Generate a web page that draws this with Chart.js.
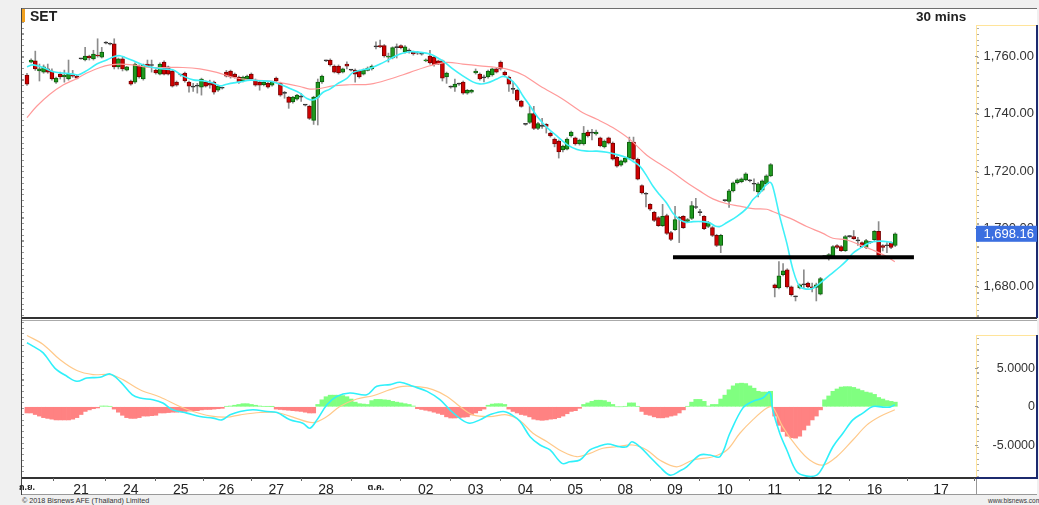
<!DOCTYPE html>
<html><head><meta charset="utf-8">
<script src="https://cdn.jsdelivr.net/npm/chart.js@4.4.0/dist/chart.umd.min.js"></script>
<style>
html,body{margin:0;padding:0;background:#f0f0f0;width:1039px;height:505px;overflow:hidden;font-family:"Liberation Sans",Arial,sans-serif;}
.abs{position:absolute;}
#frame{left:22px;top:8px;width:1015px;height:487px;background:#fff;}
.ln{position:absolute;}
canvas{position:absolute;left:0;}
#c1{top:0;}
#c2{top:320px;}
#title{left:30px;top:8px;font-weight:bold;font-size:14px;color:#222;}
#period{left:916px;top:9px;font-weight:bold;font-size:13.5px;color:#222;}
#copy{left:22px;top:496px;font-size:7.2px;color:#333;}
#site{left:988px;top:497px;font-size:6.5px;color:#333;}
</style></head>
<body>
<div id="frame" class="abs"></div>
<!-- frame lines -->
<div class="ln" style="left:22px;top:8px;width:1015px;height:1px;background:#6e6e6e"></div>
<div class="ln" style="left:22px;top:9px;width:3px;height:13px;background:#f0a020"></div>
<div class="ln" style="left:21px;top:8px;width:1px;height:487px;background:#444"></div>
<div class="ln" style="left:22px;top:22px;width:2px;height:296px;background:repeating-linear-gradient(to bottom,#999 0 1px,transparent 1px 5.75px)"></div>
<div class="ln" style="left:22px;top:322px;width:2px;height:156px;background:repeating-linear-gradient(to bottom,#999 0 1px,transparent 1px 5.75px)"></div>
<div class="ln" style="left:22px;top:317px;width:1015px;height:2px;background:#333"></div>
<div class="ln" style="left:22px;top:320px;width:1015px;height:1px;background:#aaa"></div>
<div class="ln" style="left:22px;top:477px;width:954px;height:2px;background:#333"></div>
<div class="ln" style="left:22px;top:494px;width:1015px;height:1px;background:#999"></div>
<div class="ln" style="left:976px;top:479px;width:1px;height:16px;background:#999"></div>
<!-- right axis boxes -->
<div class="ln" style="left:976px;top:25px;width:60px;height:1px;background:#ffe49a"></div>
<div class="ln" style="left:976px;top:25px;width:1px;height:292px;background:#ffe49a"></div>
<div class="ln" style="left:977px;top:28px;width:2px;height:289px;background:repeating-linear-gradient(to bottom,#aaa 0 1px,transparent 1px 5.75px)"></div>
<div class="ln" style="left:1036px;top:25px;width:2px;height:293px;background:#1c2a6e"></div>
<div class="ln" style="left:976px;top:335px;width:60px;height:1px;background:#ffe49a"></div>
<div class="ln" style="left:976px;top:335px;width:1px;height:143px;background:#ffe49a"></div>
<div class="ln" style="left:977px;top:338px;width:2px;height:139px;background:repeating-linear-gradient(to bottom,#aaa 0 1px,transparent 1px 5.75px)"></div>
<div class="ln" style="left:1036px;top:335px;width:2px;height:144px;background:#1c2a6e"></div>
<div class="ln" style="left:976px;top:477px;width:62px;height:2px;background:#1c2a6e"></div>

<canvas id="c1" width="1039" height="319"></canvas>
<canvas id="c2" width="1039" height="176"></canvas>
<div id="title" class="abs">SET</div>
<div id="period" class="abs">30 mins</div>
<div id="copy" class="abs">© 2018 Bisnews AFE (Thailand) Limited</div>
<div id="site" class="abs">www.bisnews.com</div>
<script>
// ---------- DATA (30-min bars, index 0 = first bar of 20 Sep) ----------
const opens = [
1753.4,1757.9,1758.3,1754.8,1754.4,1755.5,1754.8,1750.9,1753.7,1752.7,
1752.0,1753.4,1753.0,1759.0,1758.6,1760.0,1759.0,1760.3,1759.6,1764.5,
1764.3,1764.2,1756.2,1759.0,1755.1,1751.3,1750.9,1756.5,1752.0,1757.2,
1756.9,1755.1,1753.7,1757.9,1756.2,1754.8,1750.9,1753.4,1754.1,1750.9,
1749.2,1749.6,1749.2,1750.9,1750.5,1750.9,1748.1,1748.8,1754.4,1754.8,
1753.7,1752.7,1751.3,1752.0,1753.7,1751.6,1750.9,1750.0,1750.5,1749.9,
1752.3,1750.5,1747.0,1745.7,1744.0,1745.0,1745.7,1742.9,1742.5,1737.6,
1745.7,1751.0,1758.3,1758.6,1756.5,1756.5,1754.4,1757.2,1755.1,1755.1,
1754.8,1753.7,1755.0,1755.5,1763.2,1763.6,1763.6,1759.6,1759.3,1762.9,
1763.6,1761.4,1761.7,1761.4,1761.0,1760.7,1758.3,1760.0,1759.6,1758.3,
1758.3,1752.7,1749.2,1749.2,1750.2,1750.9,1747.1,1747.4,1754.1,1753.7,
1752.5,1752.7,1753.4,1755.5,1757.9,1754.4,1752.7,1748.5,1748.1,1744.3,
1736.2,1736.9,1740.0,1734.8,1735.5,1736.2,1733.2,1731.1,1730.4,1727.3,
1727.6,1732.2,1731.5,1729.4,1729.4,1733.5,1733.2,1732.9,1731.5,1728.4,
1731.5,1729.7,1724.8,1722.0,1723.1,1724.5,1730.1,1724.1,1714.9,1712.0,
1708.4,1705.6,1703.8,1701.0,1704.5,1698.6,1699.6,1703.5,1704.2,1702.5,
1703.5,1707.3,1705.6,1704.2,1700.7,1700.3,1697.6,1694.1,1709.7,1709.4,
1713.1,1715.9,1716.3,1716.9,1716.6,1715.5,1712.7,1713.3,1715.5,1718.3,
1680.4,1679.3,1683.9,1685.6,1679.7,1676.2,1679.3,1680.4,1681.0,1679.7,
1679.5,1677.2,1690.2,1689.9,1690.2,1694.1,1693.7,1692.3,1697.2,1697.2,
1695.8,1695.1,1693.4,1695.1,1696.1,1699.0,1694.1,1694.1,1695.1,1694.1];
const highs = [
1754.0,1759.0,1761.7,1757.2,1756.9,1757.2,1755.5,1752.7,1754.4,1755.1,
1758.6,1755.0,1753.4,1759.2,1763.0,1760.3,1762.0,1766.0,1763.0,1765.0,
1764.6,1766.0,1759.3,1759.6,1756.4,1751.6,1757.6,1756.9,1757.2,1758.6,
1758.6,1755.5,1757.6,1758.3,1756.5,1755.1,1751.3,1753.7,1754.4,1751.3,
1750.5,1750.5,1752.3,1751.3,1751.6,1751.3,1749.9,1749.2,1755.0,1755.1,
1754.1,1753.0,1753.0,1753.4,1754.1,1752.0,1751.3,1751.3,1750.9,1751.3,
1752.7,1750.9,1747.7,1746.0,1746.0,1746.7,1747.0,1743.2,1742.9,1746.0,
1752.0,1753.4,1758.6,1759.0,1756.9,1756.9,1755.8,1758.0,1755.4,1755.5,
1755.1,1755.5,1756.2,1756.9,1764.9,1765.5,1764.0,1761.0,1763.2,1764.2,
1763.9,1763.6,1762.5,1761.7,1761.6,1761.2,1759.0,1762.0,1760.0,1758.6,
1758.6,1754.4,1749.6,1752.0,1750.6,1751.3,1748.4,1748.4,1755.5,1754.1,
1753.4,1755.1,1755.8,1755.8,1758.3,1754.8,1753.0,1751.0,1748.4,1744.6,
1736.5,1742.5,1742.5,1736.9,1738.3,1736.5,1733.5,1731.5,1730.8,1729.0,
1731.5,1733.9,1731.8,1731.1,1735.5,1734.2,1734.5,1734.2,1731.8,1730.8,
1731.8,1730.1,1725.2,1723.8,1724.8,1731.8,1731.8,1724.5,1715.2,1712.5,
1708.7,1706.0,1704.2,1708.4,1705.0,1699.0,1707.7,1704.2,1704.5,1703.5,
1709.4,1710.5,1706.7,1704.5,1702.5,1700.7,1698.0,1698.0,1710.0,1713.6,
1716.2,1717.3,1717.6,1719.4,1717.0,1717.3,1716.0,1716.9,1718.7,1722.6,
1680.7,1688.5,1687.8,1686.0,1680.0,1676.5,1680.7,1685.6,1681.4,1681.0,
1681.0,1683.0,1690.5,1691.3,1694.1,1694.4,1694.1,1697.6,1697.6,1699.3,
1696.9,1695.4,1696.2,1695.5,1699.3,1702.4,1694.4,1695.1,1695.4,1698.5];
const lows = [
1749.8,1757.6,1755.0,1751.3,1754.0,1754.0,1751.6,1750.5,1752.0,1750.9,
1751.6,1752.6,1752.0,1758.9,1758.3,1758.6,1758.6,1759.6,1759.3,1764.2,
1763.9,1755.5,1755.5,1754.8,1754.8,1749.9,1750.5,1752.3,1751.6,1756.2,
1754.4,1753.7,1753.4,1753.4,1753.4,1749.2,1749.5,1753.0,1750.9,1747.4,
1747.7,1747.1,1746.4,1749.2,1748.8,1746.7,1747.7,1748.5,1752.7,1752.3,
1752.3,1750.5,1751.0,1751.6,1751.6,1749.5,1748.1,1749.6,1748.8,1749.5,
1751.0,1746.0,1745.3,1741.8,1743.6,1744.6,1744.2,1742.6,1737.9,1736.2,
1736.0,1750.5,1758.0,1756.5,1754.1,1753.7,1754.1,1755.5,1754.8,1750.9,
1752.3,1753.4,1754.8,1755.1,1762.5,1762.9,1759.6,1757.9,1759.0,1759.3,
1762.5,1761.0,1761.0,1760.3,1760.5,1760.3,1758.0,1757.2,1756.5,1757.0,
1751.3,1750.5,1748.8,1747.7,1749.8,1746.7,1746.7,1747.1,1753.7,1751.6,
1751.0,1752.3,1753.0,1754.1,1755.1,1753.0,1747.7,1747.0,1744.2,1742.2,
1735.9,1736.5,1734.4,1734.4,1734.8,1733.2,1731.8,1728.4,1724.5,1726.6,
1727.3,1731.8,1729.0,1729.0,1729.0,1731.8,1730.8,1732.5,1728.4,1728.0,
1729.4,1723.8,1721.3,1721.7,1722.8,1724.1,1723.8,1716.9,1712.0,1707.5,
1706.3,1702.4,1700.7,1700.7,1697.9,1695.8,1699.3,1695.1,1700.0,1702.1,
1703.1,1706.9,1704.5,1699.6,1700.3,1697.2,1693.7,1691.6,1709.4,1707.3,
1712.7,1715.5,1715.9,1716.6,1716.2,1713.1,1711.0,1713.0,1715.2,1718.0,
1676.2,1679.0,1683.5,1679.3,1676.5,1674.8,1679.0,1679.3,1679.3,1677.9,
1674.8,1676.9,1689.5,1689.0,1689.9,1693.0,1692.0,1692.0,1696.9,1696.2,
1694.1,1693.4,1693.0,1694.8,1695.8,1690.2,1692.2,1691.6,1693.0,1693.7];
const closes = [
1750.2,1758.6,1755.5,1755.5,1756.2,1754.4,1752.0,1752.3,1752.7,1753.4,
1753.7,1753.0,1752.3,1759.1,1760.0,1759.3,1760.7,1760.0,1761.4,1764.7,
1764.1,1756.2,1759.0,1755.5,1756.2,1750.2,1757.2,1752.7,1756.9,1756.5,
1756.7,1754.1,1757.2,1753.7,1753.7,1749.5,1749.9,1753.5,1751.3,1749.5,
1749.3,1749.5,1752.0,1749.5,1749.9,1747.4,1749.5,1748.9,1753.0,1752.7,
1752.7,1750.9,1752.7,1753.0,1752.0,1749.9,1749.9,1750.9,1749.2,1750.9,
1751.3,1746.4,1747.1,1743.9,1745.7,1746.4,1745.8,1742.9,1738.3,1745.7,
1750.9,1753.0,1758.4,1756.9,1754.4,1754.1,1755.5,1756.5,1755.1,1753.7,
1752.7,1755.1,1755.8,1756.5,1763.3,1763.2,1760.0,1760.0,1762.9,1763.0,
1762.9,1763.2,1761.8,1760.7,1761.0,1760.6,1758.6,1757.6,1757.0,1757.2,
1752.3,1754.1,1749.2,1750.2,1750.2,1747.1,1748.1,1748.1,1754.8,1752.0,
1752.4,1754.8,1755.5,1754.4,1755.5,1753.4,1750.2,1748.4,1744.6,1742.5,
1736.3,1740.0,1734.8,1736.5,1735.6,1735.5,1732.2,1729.4,1726.6,1728.7,
1731.1,1733.5,1729.4,1730.8,1733.2,1732.2,1733.3,1733.5,1728.7,1730.4,
1729.7,1724.1,1721.7,1723.5,1724.5,1730.1,1724.1,1717.2,1712.4,1711.9,
1706.7,1702.8,1701.0,1704.2,1698.3,1696.2,1703.1,1703.6,1700.3,1703.1,
1708.0,1707.4,1705.5,1699.9,1702.1,1697.6,1694.1,1697.6,1709.8,1713.1,
1715.9,1716.9,1717.3,1719.0,1716.7,1715.4,1715.5,1716.6,1718.3,1722.2,
1679.3,1683.5,1685.3,1679.7,1677.0,1676.3,1680.4,1680.5,1679.7,1679.3,
1680.4,1682.6,1690.3,1690.9,1693.7,1693.4,1692.3,1697.2,1697.3,1696.5,
1695.7,1693.7,1695.8,1695.2,1699.0,1690.6,1693.4,1694.0,1693.4,1698.16];

// fast moving average (cyan): bar index / value
const maFastX = [0,1.4,3.9,6.3,8.7,11.1,12.3,14.4,16.8,19.3,21.2,22.4,23.6,25.5,27.9,30.3,32.7,35.1,37.5,40,42.4,44.8,46.5,48.1,51.3,53.7,56.1,58.5,60.9,63.3,65.7,67.4,68.8,70,71.2,72.9,74.6,77,78.5,80.9,82.6,85,87.4,89.8,92.2,94.6,97,98.7,100.6,102.5,104.9,107.3,109,110.7,113.1,114.6,116.2,117.9,119.4,121.1,123,125.2,127.6,130,132.4,134.8,137.2,139.6,142,144.4,145.8,147.5,149.2,150.7,152.3,154,155.5,157.2,158.8,160.3,162.7,164.4,165.6,166.8,168.5,170.9,173.3,174.7,176.4,177.6,178.8,179.5,181.2,182.9,184.4,186,187.7,189.2,190.9,193.3,195.7,197.4,198.8,200.5,202.2,203.6,205.3,207.2,208.4];
const maFastY = [1756.3,1756.9,1756.0,1754.5,1754.1,1753.7,1753.4,1754.9,1757.2,1758.7,1759.9,1760.1,1759.5,1758.4,1756.9,1756.0,1755.5,1755.2,1753.1,1751.7,1751.4,1750.6,1749.6,1750.2,1751.0,1751.6,1751.4,1751.2,1750.2,1748.7,1747.1,1745.2,1744.7,1745.6,1747.3,1748.5,1750.2,1752.2,1754.3,1755.2,1755.7,1757.2,1759.0,1760.7,1761.5,1761.3,1760.7,1759.5,1757.8,1755.5,1753.1,1751.0,1750.3,1750.6,1752.0,1752.9,1752.0,1749.6,1746.1,1742.6,1738.6,1735.1,1732.1,1729.2,1727.5,1726.9,1726.9,1726.5,1725.7,1724.6,1723.4,1721.7,1718.2,1714.7,1711.7,1708.8,1705.3,1703.0,1702.1,1702.4,1702.4,1701.9,1700.9,1700.7,1702.1,1704.2,1707.1,1710.0,1712.3,1714.7,1716.1,1714.7,1704.2,1694.9,1685.6,1679.8,1678.9,1679.2,1681.0,1683.9,1686.7,1689.0,1691.4,1693.1,1694.6,1695.4,1695.6,1695.4,1695.0];
// slow moving average (pink)
const maSlowX = [0,2.4,5.5,8.7,12,14.4,17.6,20,22.4,25.5,29.6,33.7,37.5,41.6,45.7,49.6,53.7,57.8,61.6,65.7,68.1,70.5,73.6,77.7,82.6,87.4,92.2,97,101.1,104.9,109,113.1,116.2,119.4,123.5,129,133.8,137.2,141,145.1,149.2,152.3,155.5,158.8,162,165.1,168.5,171.6,174.7,178.1,179.5,183.6,187.7,191.6,194,197.4,200.5,203.6,207,208.9];
const maSlowY = [1738.6,1742.6,1746.7,1749.9,1752.2,1754.1,1756.0,1756.9,1757.2,1756.9,1756.0,1756.0,1756.0,1755.5,1754.3,1752.6,1751.7,1751.4,1750.6,1749.4,1748.5,1748.7,1749.6,1750.0,1750.2,1752.0,1754.3,1756.6,1757.8,1757.2,1756.6,1756.0,1755.2,1753.4,1749.6,1745.0,1740.3,1738.0,1735.1,1731.0,1725.5,1722.5,1719.5,1716.0,1713.0,1710.3,1708.6,1707.8,1706.9,1706.7,1705.9,1703.6,1700.7,1698.3,1696.6,1696.0,1694.3,1692.5,1690.2,1688.4];
// drawn support line
const supportX = [155.5, 213.5];
const supportY = [1690, 1690];

// MACD panel
const macdX = [0,1.4,3.9,6.7,9.6,12,14.4,17.6,20,22.4,25.3,27.2,30.3,32.7,35.1,38.5,41.6,44.8,46.9,48.9,51.3,54.4,57.8,60.2,63.3,66.4,68.1,69.8,72.2,74.6,77.7,81.8,84.2,87.4,89.8,92.9,96.3,99.4,101.8,104.7,106.6,109,111.4,114.6,116.7,118.7,121.1,123.5,125.9,128.8,130.7,133.1,135.5,137.4,139.8,142.7,144.4,145.6,147.5,149.9,152.3,154.8,157.2,158.8,162,164.4,166.8,169.2,172.3,174.7,177.1,178.8,179.5,181.2,182.9,185.3,187.7,190.1,191.6,194,196.4,198.8,201.2,203.6,206,207.7,208.9];
const macdY = [8.27,7.83,6.97,5.0,3.94,3.29,3.72,3.81,4.24,3.29,1.56,1.13,0.91,0.48,-0.39,-0.82,-1.26,-1.47,-1.69,-1.04,-0.61,-0.39,-0.61,-0.74,-1.69,-2.12,-2.77,-1.69,0.26,1.34,1.78,1.56,2.64,2.86,3.16,2.64,1.99,0.91,-0.39,-1.69,-2.12,-1.69,-1.04,-0.61,-1.04,-1.9,-3.86,-4.94,-5.58,-7.31,-7.10,-6.88,-5.58,-5.16,-4.81,-5.16,-5.16,-4.51,-5.16,-6.45,-7.75,-8.83,-8.27,-7.75,-6.23,-6.23,-6.45,-3.42,-0.17,0.69,1.13,1.86,-0.39,-3.42,-5.58,-8.4,-8.96,-8.83,-7.75,-5.16,-3.42,-1.69,-0.82,0.04,-0.04,-0.04,0.26];
const signalX = [0,3.9,7.9,12,15.9,20,23.1,27.2,32,36.8,40,44,48.1,51.3,56.1,60.2,64,68.8,72.2,75.3,79.4,83.3,87.4,90.5,94.6,97.7,101.1,104.2,107.3,111.4,115.5,118.7,121.8,125.2,129,132.4,135.5,138.6,142,145.8,149.2,152.3,156.4,160.3,165.1,168.5,171.6,174.7,178.1,179.5,181.9,185.3,188.4,191.6,194.9,198.8,202.2,205.3,208.9];
const signalY = [9.22,8.05,6.1,4.68,4.16,4.16,3.51,2.21,1.26,0.04,-0.61,-1.17,-1.34,-1.04,-0.74,-0.74,-1.34,-2.04,-1.26,0.04,1.0,1.43,2.21,2.64,2.56,2.21,1.34,0.04,-1.04,-1.26,-1.04,-1.8,-3.42,-4.51,-5.81,-6.45,-6.01,-5.36,-5.16,-4.94,-5.58,-6.88,-7.75,-6.88,-6.45,-5.58,-3.42,-1.69,-0.17,-0.04,-2.56,-5.16,-6.88,-7.53,-6.45,-4.29,-2.34,-1.26,-0.39];
const histogram = [
-0.8,-0.8,-1.0,-1.2,-1.4,-1.5,-1.6,-1.7,-1.7,-1.7,-1.7,-1.6,-1.4,-1.0,-0.6,-0.4,-0.25,-0.15,
0.1,0.1,0.05,
-0.3,-0.7,-1.1,-1.4,-1.5,-1.5,-1.4,-1.2,-1.2,-1.15,-1.1,-0.8,-0.8,-0.75,-0.7,-0.7,-0.65,-0.6,-0.55,-0.5,-0.5,-0.4,-0.35,-0.35,-0.3,-0.25,-0.2,
0.05,0.1,0.2,0.3,0.4,0.4,0.3,0.2,0.1,0.05,0.04,0.03,
-0.3,-0.35,-0.4,-0.45,-0.5,-0.55,-0.6,-0.7,-0.8,-0.8,
0.3,0.9,1.3,1.5,1.5,1.5,1.45,1.3,1.0,0.6,0.4,0.35,0.3,0.8,0.95,0.95,0.9,0.85,0.7,0.6,0.5,0.4,0.3,0.1,
-0.25,-0.35,-0.45,-0.55,-0.7,-0.85,-1.0,-1.3,-1.45,-1.45,-1.4,-1.35,-1.3,-1.05,-0.8,-0.5,-0.3,
0.2,0.35,0.4,0.4,0.3,
-0.3,-0.6,-0.8,-1.0,-1.1,-1.3,-1.6,-1.7,-1.75,-1.7,-1.6,-1.55,-1.4,-1.2,-0.9,-0.6,-0.5,-0.2,
0.3,0.5,0.7,0.85,0.85,0.8,0.6,0.3,
0,0,0.05,0.5,0.5,0.05,
-0.6,-1.0,-1.1,-1.3,-1.43,-1.43,-1.35,-1.2,-1.1,-0.8,-0.4,
0.05,0.6,0.95,0.95,0.7,0.1,0.3,0.3,
1.0,1.5,2.2,2.7,3.0,3.05,3.0,2.7,2.4,2.0,1.9,1.9,2.0,
-1.2,-2.4,-3.2,-3.8,-4.0,-4.05,-3.8,-3.0,-2.4,-1.7,-1.2,-0.4,
0.9,1.4,2.0,2.3,2.55,2.6,2.6,2.5,2.3,2.1,1.9,1.8,1.6,1.2,1.0,0.8,0.7,0.6];

// tick labels
const priceTicks = [1680, 1700, 1720, 1740, 1760];
const macdTicks = [-5, 0, 5];
const dayTickIdx = [0, 13, 25, 37, 48, 60, 72, 84, 96, 108, 120, 132, 144, 156, 168, 180, 192, 204, 220];
const dayLabels = ['ก.ย.','21','24','25','26','27','28','ต.ค.','02','03','04','05','08','09','10','11','12','16','17'];

// ---------- CHARTS ----------
const X_MIN = -1.2, X_MAX = 228.2;
const FONT = '"Liberation Sans", Arial, "Noto Sans Thai", "Noto Sans", sans-serif';
const pts = (xs, ys) => xs.map((x, k) => ({x, y: ys[k]}));
const idx = opens.map((_, i) => i);
const bodyFill = idx.map(i => Math.abs(closes[i]-opens[i]) < 0.25 ? '#303030' : (closes[i] > opens[i] ? '#1f9a1f' : '#d00000'));
const bodyLine = idx.map(i => Math.abs(closes[i]-opens[i]) < 0.25 ? '#303030' : (closes[i] > opens[i] ? '#0b5e0b' : '#7a0000'));
const fmtPrice = v => v.toLocaleString('en-US', {minimumFractionDigits: 2, maximumFractionDigits: 2});
const noPad = s => { s.paddingTop = 0; s.paddingBottom = 0; };

const lastPriceTag = {
  id: 'lastPriceTag',
  afterDraw(chart) {
    const last = closes[closes.length - 1];
    const y = chart.scales.y.getPixelForValue(last);
    const ctx = chart.ctx;
    ctx.save();
    ctx.fillStyle = '#3b6fe0';
    ctx.fillRect(chart.chartArea.right + 1, y - 8, 61, 16);
    ctx.fillStyle = '#ffffff';
    ctx.font = '13px ' + FONT;
    ctx.textAlign = 'right';
    ctx.textBaseline = 'middle';
    ctx.fillText(fmtPrice(last), chart.chartArea.right + 59, y + 1);
    ctx.restore();
  }
};

new Chart(document.getElementById('c1'), {
  data: {
    datasets: [
      { type: 'bar', data: idx.map(i => ({x: i, y: [lows[i], highs[i]]})), backgroundColor: '#8c8c8c',
        barThickness: 1, grouped: false, order: 5 },
      { type: 'bar', data: idx.map(i => ({x: i, y: [opens[i], closes[i]]})), backgroundColor: bodyFill,
        borderColor: bodyLine, borderWidth: 1, borderSkipped: false, barThickness: 4, minBarLength: 1, grouped: false, order: 4 },
      { type: 'line', data: pts(maSlowX, maSlowY), borderColor: '#ff9a9a', borderWidth: 1.2, pointRadius: 0, tension: 0.35, order: 3 },
      { type: 'line', data: pts(maFastX, maFastY), borderColor: '#3ff0f8', borderWidth: 1.6, pointRadius: 0, tension: 0.35, order: 2 },
      { type: 'line', data: pts(supportX, supportY), borderColor: '#000000', borderWidth: 4, pointRadius: 0, order: 1 }
    ]
  },
  options: {
    responsive: false, animation: false, events: [],
    layout: { padding: { left: 22, top: 8, right: 5, bottom: 1 } },
    plugins: { legend: { display: false }, tooltip: { enabled: false } },
    scales: {
      x: { type: 'linear', min: X_MIN, max: X_MAX, display: false, offset: false },
      y: { position: 'right', min: 1668.87, max: 1776.7,
        afterBuildTicks: s => { s.ticks = priceTicks.map(v => ({value: v})); },
        afterFit: s => { s.width = 59; noPad(s); },
        grid: { drawOnChartArea: false, tickLength: 3, color: '#999' },
        border: { display: false },
        ticks: { padding: 0, crossAlign: 'far', color: '#333', font: { size: 13, family: FONT }, callback: v => fmtPrice(v) } }
    }
  },
  plugins: [lastPriceTag]
});

new Chart(document.getElementById('c2'), {
  data: {
    datasets: [
      { type: 'bar', data: idx.map(i => ({x: i, y: histogram[i]})), backgroundColor: histogram.map(v => v >= 0 ? '#80ff80' : '#ff8282'),
        barPercentage: 1, categoryPercentage: 1, borderWidth: 0, order: 3 },
      { type: 'line', data: pts(signalX, signalY), borderColor: '#ffc98a', borderWidth: 1.2, pointRadius: 0, tension: 0.35, order: 2 },
      { type: 'line', data: pts(macdX, macdY), borderColor: '#2ff0fa', borderWidth: 1.6, pointRadius: 0, tension: 0.35, order: 1 }
    ]
  },
  options: {
    responsive: false, animation: false, events: [],
    layout: { padding: { left: 22, top: 0, right: 4, bottom: 1 } },
    plugins: { legend: { display: false }, tooltip: { enabled: false } },
    scales: {
      x: { type: 'linear', min: X_MIN, max: X_MAX, offset: false,
        afterBuildTicks: s => { s.ticks = dayTickIdx.map(v => ({value: v})); },
        afterFit: s => { s.height = 17; s.paddingLeft = 0; s.paddingRight = 0; },
        grid: { drawOnChartArea: false, tickLength: 3, color: '#666' },
        border: { display: false },
        ticks: { autoSkip: false, maxRotation: 0, padding: 1, color: '#222',
          font: c => (c.index === 0 || c.index === 7) ? { size: 9, weight: 'bold', family: FONT } : { size: 14, family: FONT },
          callback: (v, i) => dayLabels[i] } },
      y: { position: 'right', min: -9.2, max: 11.21,
        afterBuildTicks: s => { s.ticks = macdTicks.map(v => ({value: v})); },
        afterFit: s => { s.width = 60; noPad(s); },
        grid: { drawOnChartArea: false, tickLength: 3, color: '#999' },
        border: { display: false },
        ticks: { padding: 14, crossAlign: 'far', color: '#333', font: { size: 12.5, family: FONT },
          callback: v => v === 0 ? '0' : v.toFixed(4) } }
    }
  }
});
</script>
</body></html>
